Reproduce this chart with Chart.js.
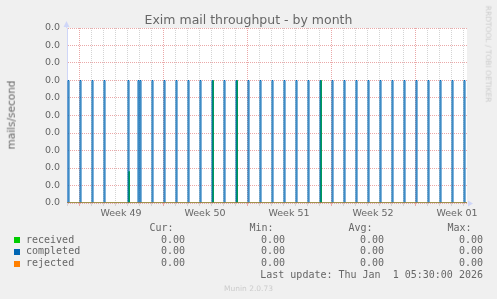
<!DOCTYPE html>
<html>
<head>
<meta charset="utf-8">
<script src="https://cdn.jsdelivr.net/npm/chart.js@4.4.0/dist/chart.umd.min.js"></script>
<style>
  html, body { margin: 0; padding: 0; background: #f0f0f0; }
  #wrap { position: relative; width: 497px; height: 299px; overflow: hidden; color: #666; font-family: "DejaVu Sans", sans-serif; }
  #chart { position: absolute; left: 0; top: 0; }
  .t { position: absolute; white-space: pre; line-height: 1; }
  .mono { font-family: "DejaVu Sans Mono", monospace; font-size: 10px; height: 10px; }
  .sq { position: absolute; width: 6px; height: 6px; }
</style>
</head>
<body>
<div id="wrap">
  <canvas id="chart" width="497" height="299"></canvas>
  <div class="t" id="title" style="left:0;width:497px;text-align:center;top:13.7px;font-size:12.5px;">Exim mail throughput - by month</div>
  <div class="t" style="left:11px;top:115px;font-size:10.5px;transform:translate(-50%,-50%) rotate(-90deg);">mails/second</div>
  <div class="t" style="left:488px;top:54px;font-size:7.5px;color:#ccc;transform:translate(-50%,-50%) rotate(90deg);">RRDTOOL / TOBI OETIKER</div>
  <div id="legend"></div>
  <div class="t" style="left:0;width:497px;text-align:center;top:285px;font-size:7.5px;color:#ccc;">Munin 2.0.73</div>
</div>
<script>
// 2-hour buckets, hours counted from the left edge of the graph
const bucketHours = 2;
const xMaxHours = 800;

const completedHours = [2, 26, 50, 74, 122, 142, 146, 170, 194, 218, 242, 266, 290, 314, 338, 362, 386,
  410, 434, 458, 482, 506, 530, 554, 578, 602, 626, 650, 674, 698, 722, 746, 770, 794];
const completedRates = [0.0007, 0.0007, 0.0007, 0.0007, 0.0007, 0.0007, 0.0007, 0.0007, 0.0007, 0.0007,
  0.0007, 0.0007, 0.0007, 0.0007, 0.0007, 0.0007, 0.0007, 0.0007, 0.0007, 0.0007, 0.0007, 0.0007,
  0.0007, 0.0007, 0.0007, 0.0007, 0.0007, 0.0007, 0.0007, 0.0007, 0.0007, 0.0007, 0.0007, 0.0007];
const receivedHours = [123, 291, 339, 507];
const receivedRates = [0.00018, 0.0007, 0.0007, 0.0007];
const rejectedHours = [];
const rejectedRates = [];

const weekLabels = ["Week 49", "Week 50", "Week 51", "Week 52", "Week 01"];
const weekLabelHours = [108, 276, 444, 612, 780];
const weekStartHours = [24, 192, 360, 528, 696];

const yMax = 0.001;
const yStep = 0.00005;

const seriesNames = ["received", "completed", "rejected"];
const seriesColors = ["#00cc00", "#0066b3", "#ff8000"];
const curValues = ["0.00", "0.00", "0.00"];
const minValues = ["0.00", "0.00", "0.00"];
const avgValues = ["0.00", "0.00", "0.00"];
const maxValues = ["0.00", "0.00", "0.00"];
const lastUpdate = "Last update: Thu Jan  1 05:30:00 2026";

function pulses(hours, rates) {
  const pts = [{ x: 0, y: 0 }];
  hours.forEach((h, i) => {
    pts.push({ x: h, y: rates[i] });
    pts.push({ x: h + bucketHours, y: 0 });
  });
  pts.push({ x: xMaxHours, y: 0 });
  return pts;
}

const majorGrid = "#eaa8a8";
const minorGrid = "#d4d4d4";
const axisColor = "#cfd6f8";

const backdrop = {
  id: "backdrop",
  beforeDraw(chart) {
    const { ctx, chartArea: a } = chart;
    ctx.save();
    ctx.fillStyle = "#ffffff";
    ctx.fillRect(a.left, a.top, a.right - a.left, a.bottom - a.top);
    ctx.restore();
  },
  afterDraw(chart) {
    const { ctx, chartArea: a } = chart;
    ctx.save();
    ctx.fillStyle = axisColor;
    ctx.strokeStyle = axisColor;
    ctx.lineWidth = 1;
    ctx.beginPath();
    ctx.moveTo(a.left - 0.5, a.top);
    ctx.lineTo(a.left - 0.5, a.top - 4);
    ctx.stroke();
    ctx.beginPath();
    ctx.moveTo(a.left - 0.5, a.top - 7);
    ctx.lineTo(a.left - 3.5, a.top - 1);
    ctx.lineTo(a.left + 2.5, a.top - 1);
    ctx.closePath();
    ctx.fill();
    ctx.beginPath();
    ctx.moveTo(a.right + 6, a.bottom + 0.5);
    ctx.lineTo(a.right + 1, a.bottom - 2.5);
    ctx.lineTo(a.right + 1, a.bottom + 3.5);
    ctx.closePath();
    ctx.fill();
    ctx.restore();
  }
};

const yTicks = [];
for (let v = 0; v <= Math.round(yMax / yStep); v++) yTicks.push(v * yStep);
const xTicks = [];
for (let h = 0; h < xMaxHours; h += 12) xTicks.push(h);

const tickFont = { family: "DejaVu Sans", size: 9.5 };

function dayColor(c) {
  const h = c.tick ? c.tick.value : 0;
  if (h % 24 !== 0) return "rgba(0,0,0,0)";
  return weekStartHours.includes(h) ? majorGrid : minorGrid;
}

new Chart(document.getElementById("chart"), {
  type: "line",
  data: {
    datasets: [
      { label: seriesNames[0], data: pulses(receivedHours, receivedRates), borderColor: seriesColors[0], order: 3 },
      { label: seriesNames[1], data: pulses(completedHours, completedRates), borderColor: seriesColors[1], order: 2 },
      { label: seriesNames[2], data: pulses(rejectedHours, rejectedRates), borderColor: seriesColors[2], order: 1 }
    ]
  },
  options: {
    responsive: false,
    animation: false,
    devicePixelRatio: 1,
    parsing: false,
    elements: {
      line: { borderWidth: 1, tension: 0, stepped: true },
      point: { radius: 0 }
    },
    layout: { padding: { left: 0, top: 28, right: 30, bottom: 76 } },
    plugins: { legend: { display: false }, tooltip: { enabled: false } },
    scales: {
      x: {
        type: "linear",
        min: 0,
        max: xMaxHours,
        afterBuildTicks: (scale) => { scale.ticks = xTicks.map((v) => ({ value: v })); },
        afterFit: (scale) => { scale.height = 20; },
        border: { display: false, dash: [1, 1] },
        grid: { tickLength: 3, color: dayColor, tickColor: dayColor },
        ticks: {
          autoSkip: false,
          maxRotation: 0,
          padding: 2,
          color: "#666",
          font: tickFont,
          callback: (v) => {
            const i = weekLabelHours.indexOf(v);
            return i >= 0 ? weekLabels[i] : "";
          }
        }
      },
      y: {
        min: 0,
        max: yMax,
        afterBuildTicks: (scale) => { scale.ticks = yTicks.map((v) => ({ value: v })); },
        afterFit: (scale) => { scale.width = 67; },
        border: { display: true, color: axisColor, dash: [1, 1] },
        grid: {
          drawTicks: false,
          color: (c) => (c.index % 2 === 0 ? majorGrid : minorGrid)
        },
        ticks: {
          padding: 7,
          color: "#666",
          font: tickFont,
          callback: (v, i) => (i % 2 === 0 ? v.toFixed(1) : "")
        }
      }
    }
  },
  plugins: [backdrop]
});

// legend table, monospaced like munin's
const legend = document.getElementById("legend");
function text(str, x, baseline, align) {
  const d = document.createElement("div");
  d.className = "t mono";
  d.textContent = str;
  d.style.top = (baseline - 8.46) + "px";
  if (align === "right") {
    d.style.right = (497 - x) + "px";
  } else {
    d.style.left = x + "px";
  }
  legend.appendChild(d);
}
const colRight = [185, 285, 384, 483];
const headers = ["Cur:", "Min:", "Avg:", "Max:"];
const rowBase = [243, 254.7, 266.3];
headers.forEach((h, i) => text(h, colRight[i] - 11.5, 231.7, "right"));
seriesNames.forEach((name, r) => {
  const sq = document.createElement("div");
  sq.className = "sq";
  sq.style.left = "14px";
  sq.style.top = (rowBase[r] - 5.7) + "px";
  sq.style.background = seriesColors[r];
  legend.appendChild(sq);
  text(name, 26, rowBase[r], "left");
  [curValues, minValues, avgValues, maxValues].forEach((col, c) => text(col[r], colRight[c], rowBase[r], "right"));
});
text(lastUpdate, 483, 278.7, "right");
</script>
</body>
</html>
